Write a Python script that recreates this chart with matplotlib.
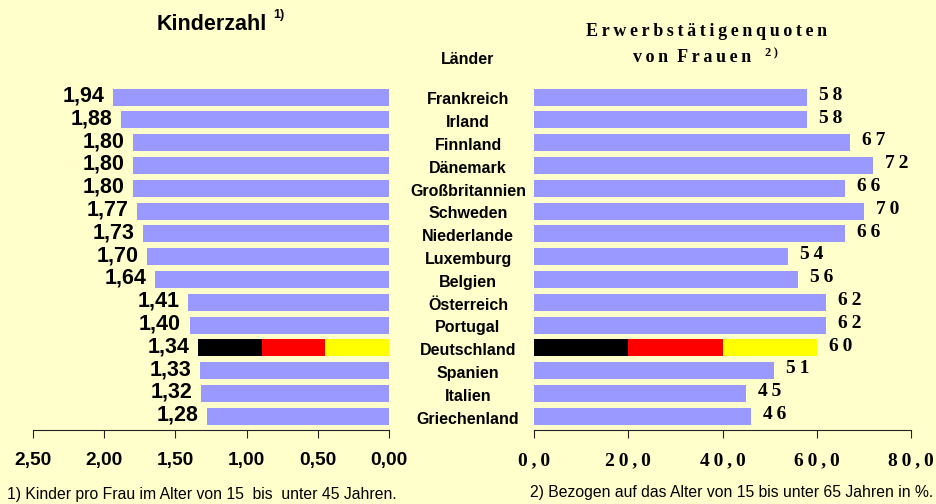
import numpy as np
import matplotlib.pyplot as plt
import matplotlib.transforms as mtransforms

# Daten
laender = ["Frankreich", "Irland", "Finnland", "Dänemark", "Großbritannien",
           "Schweden", "Niederlande", "Luxemburg", "Belgien", "Österreich",
           "Portugal", "Deutschland", "Spanien", "Italien", "Griechenland"]
kinderzahl = [1.94, 1.88, 1.80, 1.80, 1.80, 1.77, 1.73, 1.70, 1.64,
              1.41, 1.40, 1.34, 1.33, 1.32, 1.28]
quote = [58, 58, 67, 72, 66, 70, 66, 54, 56, 62, 62, 60, 51, 45, 46]
ticks_links = [2.5, 2.0, 1.5, 1.0, 0.5, 0.0]
ticks_rechts = [0, 20, 40, 60, 80]

bg = "#FFFFCC"
blau = "#9999FF"
flagge = ["#000000", "#FF0000", "#FFFF00"]
sans = ["Liberation Sans", "DejaVu Sans"]
serif = ["Liberation Serif", "DejaVu Serif"]


def spaced(s):
    # Sperrschrift wie im Original
    return "\u2009".join(s)


def komma(v, n):
    return f"{v:.{n}f}".replace(".", ",")


fig = plt.figure(figsize=(9.36, 5.04), dpi=100, facecolor=bg)
W, H = 936, 504
unten = (H - 430) / H
hoehe = 346.6 / H
ax1 = fig.add_axes([33 / W, unten, 356 / W, hoehe], facecolor=bg)
ax2 = fig.add_axes([534 / W, unten, 377 / W, hoehe], facecolor=bg)

de = laender.index("Deutschland")

# linke Seite: Kinderzahl
for i, v in enumerate(kinderzahl):
    if i == de:
        for k, c in enumerate(flagge):
            ax1.barh(i, v / 3, left=v - (k + 1) * v / 3, height=0.75, color=c)
    else:
        ax1.barh(i, v, height=0.75, color=blau)
    ax1.text(v + 0.06, i - 0.05, komma(v, 2), ha="right", va="center",
             fontsize=15.5, fontweight="bold", family=sans)
ax1.set_xlim(2.5, 0)
ax1.set_ylim(14.6, -0.6)
ax1.set_xticks(ticks_links)
ax1.set_xticklabels([komma(t, 2) for t in ticks_links], fontsize=13.8,
                    fontweight="bold", family=sans)

# rechte Seite: Erwerbstätigenquote
for i, v in enumerate(quote):
    if i == de:
        for k, c in enumerate(flagge):
            ax2.barh(i, v / 3, left=k * v / 3, height=0.75, color=c)
    else:
        ax2.barh(i, v, height=0.75, color=blau)
    ax2.text(v + 2.5, i - 0.08, spaced(str(v)), ha="left", va="center",
             fontsize=14, fontweight="bold", family=serif)
ax2.set_xlim(0, 80)
ax2.set_ylim(14.6, -0.6)
ax2.set_xticks(ticks_rechts)
ax2.set_xticklabels([spaced(komma(t, 1)) for t in ticks_rechts], fontsize=14,
                    fontweight="bold", family=serif)

for ax in (ax1, ax2):
    for s in ("top", "left", "right"):
        ax.spines[s].set_visible(False)
    ax.spines["bottom"].set_color("#222222")
    ax.set_yticks([])
    ax.tick_params(axis="x", direction="out", length=6, pad=10, color="#222222")

# Ländernamen in der Mitte
tr = mtransforms.blended_transform_factory(fig.transFigure, ax1.transData)
for i, name in enumerate(laender):
    fig.text(468 / W, i + 0.12, name, transform=tr, ha="center", va="center",
             fontsize=11.5, fontweight="bold", family=sans)

# Titel
fig.text(212 / W, 1 - 24 / H, "Kinderzahl", ha="center", va="center",
         fontsize=15.5, fontweight="bold", family=sans)
fig.text(273 / W, 1 - 15 / H, "1)", ha="left", va="center",
         fontsize=9, fontweight="bold", family=sans)
fig.text(468 / W, 1 - 59 / H, "Länder", ha="center", va="center",
         fontsize=11.5, fontweight="bold", family=sans)
fig.text(707 / W, 1 - 32 / H, spaced("Erwerbstätigenquoten"), ha="center",
         va="center", fontsize=13, fontweight="bold", family=serif)
fig.text(692 / W, 1 - 57 / H, spaced("von") + "  " + spaced("Frauen"),
         ha="center", va="center", fontsize=13, fontweight="bold", family=serif)
fig.text(765 / W, 1 - 53 / H, spaced("2)"), ha="left", va="center",
         fontsize=9, fontweight="bold", family=serif)

# Fußnoten
fig.text(7 / W, 1 - 494 / H, "1) Kinder pro Frau im Alter von 15  bis  unter 45 Jahren.",
         ha="left", va="center", fontsize=11.3, family=sans)
fig.text(933 / W, 1 - 492 / H, "2) Bezogen auf das Alter von 15 bis unter 65 Jahren in %.",
         ha="right", va="center", fontsize=11.3, family=sans)

fig.savefig("out.png", dpi=100, facecolor=bg)
